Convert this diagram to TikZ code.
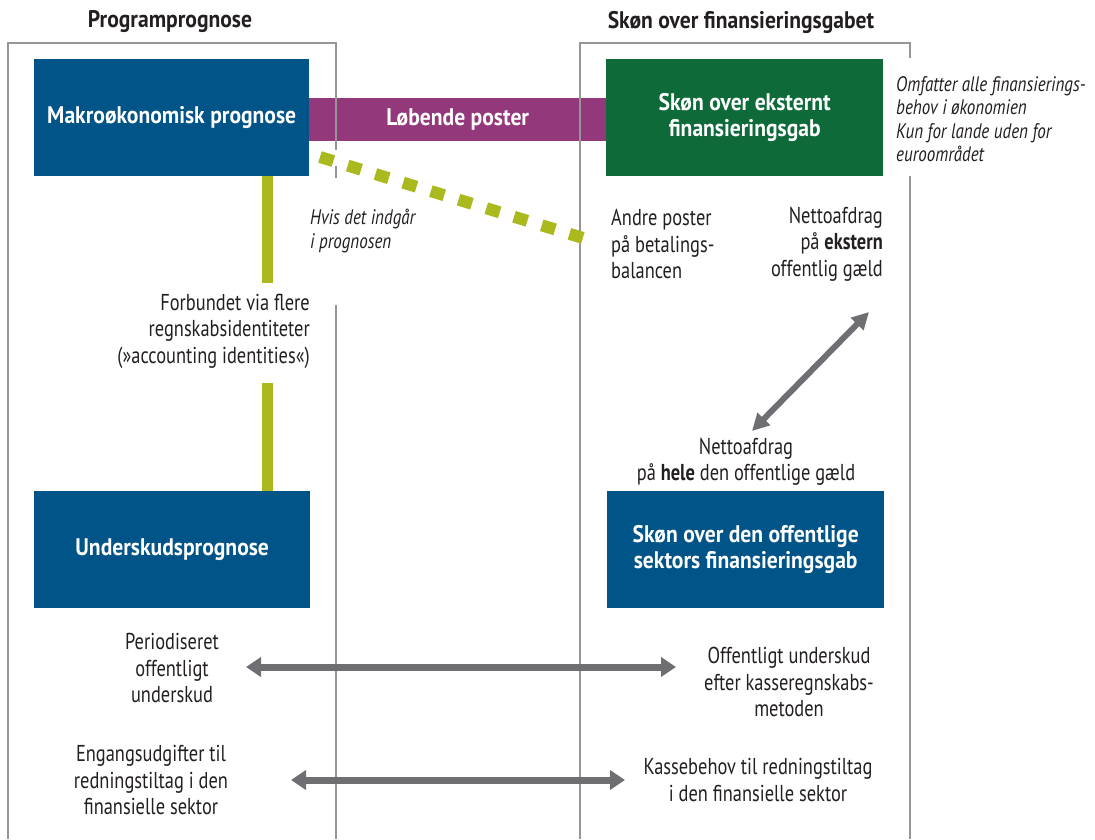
\documentclass[tikz,border=0pt]{standalone}
\usepackage{fontspec}
\setmainfont{PT Sans}[FakeStretch=0.8]
\newfontfamily\bxf{PT Sans}[FakeStretch=0.9]
\newfontfamily\itf{PT Sans}[FakeStretch=0.81]
\usetikzlibrary{arrows.meta}
\definecolor{ink}{RGB}{35,31,32}
\definecolor{dblue}{RGB}{1,84,135}
\definecolor{dgreen}{RGB}{14,106,57}
\definecolor{purp}{RGB}{148,56,124}
\definecolor{lime}{RGB}{170,185,30}
\definecolor{garr}{RGB}{110,110,115}
\definecolor{frm}{RGB}{150,150,150}
\begin{document}
\begin{tikzpicture}[x=1pt,y=-1pt,
  frame/.style={draw=frm, line width=1.3pt},
  bigbox/.style={anchor=north west, inner sep=0pt, minimum height=117pt, text=white, align=center,
     font=\bxf\bfseries\fontsize{24}{25.5}\selectfont},
  title/.style={inner sep=0pt, text=ink, font=\bxf\bfseries\fontsize{24}{25}\selectfont},
  txt/.style={inner sep=0pt, text=ink, font=\fontsize{23}{26.5}\selectfont},
  itxt/.style={inner sep=0pt, text=ink, font=\itf\itshape\fontsize{21}{23.5}\selectfont},
  limeline/.style={draw=lime, line width=11pt},
  limedash/.style={draw=lime, line width=12pt, dash pattern=on 14pt off 15pt},
  garrow/.style={draw=garr, line width=6pt, {Triangle[length=17pt,width=17pt]}-{Triangle[length=17pt,width=17pt]}},
  harrow/.style={draw=garr, line width=7pt, {Triangle[length=15pt,width=19pt]}-{Triangle[length=15pt,width=19pt]}}
]
\useasboundingbox (0,0) rectangle (1095,839);

% band
\node[anchor=north west, fill=purp, minimum width=297pt, minimum height=43pt, inner sep=0pt,
  text=white, font=\bxf\bfseries\fontsize{24}{25}\selectfont] (band) at (309,98) {Løbende poster};

% frames
\draw[frame] (8,839) -- (8,43) -- (336,43) -- (336,150);
\draw[frame] (336,166) -- (336,178);
\draw[frame] (336,305) -- (336,839);
\draw[frame] (580,839) -- (580,43) -- (910,43) -- (910,58);
\draw[frame] (910,176) -- (910,839);

% titles
\node[title] (t1) at (170,22) {Programprognose};
\node[title] (t2) at (741,22) {Skøn over finansieringsgabet};

% boxes
\node[bigbox, fill=dblue, minimum width=275pt] (makro) at (34,59) {Makroøkonomisk prognose};
\node[bigbox, fill=dgreen, minimum width=277pt] (ekst) at (606,59) {Skøn over eksternt\\finansieringsgab};
\node[bigbox, fill=dblue, minimum width=276pt] (under) at (34,491) {Underskudsprognose};
\node[bigbox, fill=dblue, minimum width=277pt] (offg) at (607,491) {Skøn over den offentlige\\sektors finansieringsgab};

% texts
\node[itxt, anchor=west, align=left] (note) at (896,119) {Omfatter alle finansierings-\\behov i økonomien\\Kun for lande uden for\\euroområdet};
\node[itxt, anchor=west, align=left] (hvis) at (310,231) {Hvis det indgår\\i prognosen};
\node[txt, anchor=west, align=left] (andre) at (611,244) {Andre poster\\på betalings-\\balancen};
\node[txt, anchor=east, align=right] (netto1) at (883,244) {Nettoafdrag\\på \textbf{ekstern}\\offentlig gæld};
\node[txt, anchor=east, align=right] (forb) at (310,331) {Forbundet via flere\\regnskabsidentiteter\\(»accounting identities«)};
\node[txt, align=center] (netto2) at (746,462) {Nettoafdrag\\på \textbf{hele} den offentlige gæld};
\node[txt, align=center] (per) at (172,668) {Periodiseret\\offentligt\\underskud};
\node[txt, align=center] (offu) at (789,682) {Offentligt underskud\\efter kasseregnskabs-\\metoden};
\node[txt, align=center] (eng) at (151,780) {Engangsudgifter til\\redningstiltag i den\\finansielle sektor};
\node[txt, align=center] (kas) at (758,780) {Kassebehov til redningstiltag\\i den finansielle sektor};

% connectors
\coordinate (g1) at (267,283);
\coordinate (g2) at (267,383);
\draw[limeline] (makro.south -| g1) -- (g1);
\draw[limeline] (g2) -- (under.north -| g2);

\coordinate (d1) at (320,157);
\coordinate (d2) at (583,238);
\draw[limedash] (d1) -- (d2);

\coordinate (e1) at (752,431);
\coordinate (e2) at (869,312);
\draw[garrow] (e1) -- (e2);

\coordinate (h1a) at (246,667);
\coordinate (h1b) at (676,667);
\draw[harrow] (h1a) -- (h1b);
\coordinate (h2a) at (291,780);
\coordinate (h2b) at (625,780);
\draw[harrow] (h2a) -- (h2b);
\end{tikzpicture}
\end{document}
